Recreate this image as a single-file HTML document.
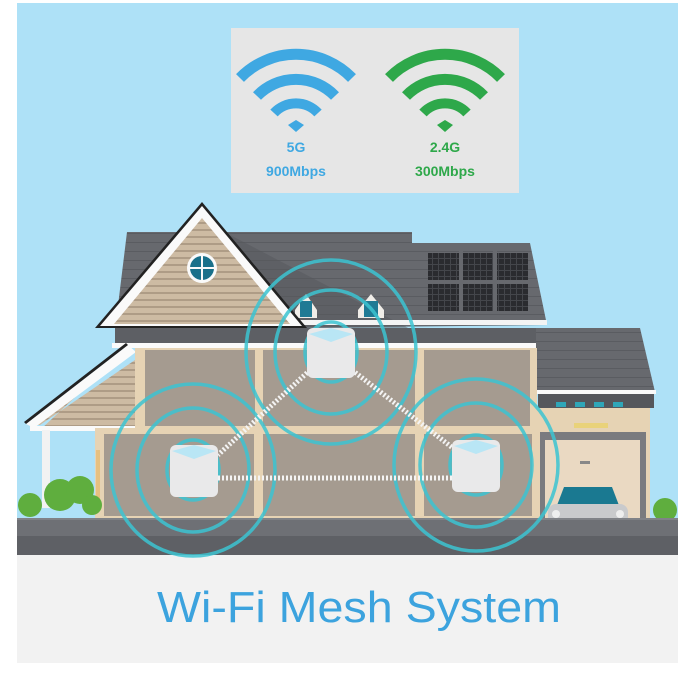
<!DOCTYPE html>
<html><head><meta charset="utf-8"><style>
html,body{margin:0;padding:0;background:#fff;width:694px;height:699px;overflow:hidden}
svg{display:block}
</style></head><body>
<svg width="694" height="699" viewBox="0 0 694 699" xmlns="http://www.w3.org/2000/svg">
<defs>
<pattern id="siding" width="10" height="7" patternUnits="userSpaceOnUse">
<rect width="10" height="7" fill="#cdbba3"/><rect y="5" width="10" height="2" fill="#ae9c86"/>
</pattern>
<pattern id="roof" width="10" height="9" patternUnits="userSpaceOnUse">
<rect width="10" height="9" fill="#67696e"/><rect y="8" width="10" height="1" fill="#5a5c61"/>
</pattern>
<pattern id="solar" width="6" height="6" patternUnits="userSpaceOnUse">
<rect width="6" height="6" fill="#2a2b2f"/><rect width="6" height="1" fill="#44464b"/><rect width="1" height="6" fill="#44464b"/>
</pattern>
</defs>
<rect x="17" y="3" width="661" height="552" fill="#aee1f7"/>
<rect x="17" y="555" width="661" height="108" fill="#f2f2f2"/>

<rect x="231" y="28" width="288" height="165" fill="#e6e6e6"/>
<g fill="none" stroke="#3fa8e2">
<path d="M240 78 A78 78 0 0 1 352 78" stroke-width="11"/>
<path d="M257 96 A54 54 0 0 1 335 96" stroke-width="11"/>
<path d="M274 113 A30 30 0 0 1 318 113" stroke-width="10"/>
</g>
<path d="M288 125 L296 120 L304 125 L296 132Z" fill="#3fa8e2"/>
<g fill="none" stroke="#2ea84a">
<path d="M389 78 A78 78 0 0 1 501 78" stroke-width="11"/>
<path d="M406 96 A54 54 0 0 1 484 96" stroke-width="11"/>
<path d="M423 113 A30 30 0 0 1 467 113" stroke-width="10"/>
</g>
<path d="M437 125 L445 120 L453 125 L445 132Z" fill="#2ea84a"/>
<g font-family="Liberation Sans, sans-serif" font-weight="bold" font-size="14" text-anchor="middle">
<text x="296" y="152" fill="#3fa8e2">5G</text>
<text x="296" y="176" fill="#3fa8e2">900Mbps</text>
<text x="445" y="152" fill="#2ea84a">2.4G</text>
<text x="445" y="176" fill="#2ea84a">300Mbps</text>
</g>

<path d="M127 232 L412 232 L412 243 L530 243 L547 325 L115 330Z" fill="url(#roof)"/>
<path d="M230 235 L412 330 L300 330Z" fill="#55575c" opacity="0.5"/>
<rect x="428" y="253" width="100" height="58" fill="url(#solar)"/>
<g stroke="#67696e" stroke-width="4"><line x1="461" y1="250" x2="461" y2="313"/><line x1="495" y1="250" x2="495" y2="313"/><line x1="426" y1="282" x2="530" y2="282"/></g>
<g>
<path d="M295 310 L306 294 L317 310 L317 318 L295 318Z" fill="#f0ede8"/>
<rect x="300" y="301" width="12" height="16" fill="#1f7a94"/>
<path d="M358 310 L371 294 L384 310 L384 318 L358 318Z" fill="#f0ede8"/>
<rect x="364" y="301" width="14" height="16" fill="#1f7a94"/>
</g>
<rect x="300" y="320" width="247" height="5" fill="#f4f4f4"/>
<path d="M202 202 L307 328 L95 328Z" fill="#222"/>
<path d="M202 206 L302 326 L100 326Z" fill="#fafafa"/>
<path d="M202 218 L290 324 L114 324Z" fill="url(#siding)"/>
<circle cx="202" cy="268" r="15" fill="#fafafa"/>
<circle cx="202" cy="268" r="12" fill="#19708a"/>
<path d="M202 256 V280 M190 268 H214" stroke="#fafafa" stroke-width="2"/>
<rect x="115" y="328" width="432" height="16" fill="#5d5f64"/>
<rect x="112" y="343" width="438" height="5" fill="#fafafa"/>

<path d="M536 328 L640 328 L655 392 L536 392Z" fill="url(#roof)"/>
<rect x="536" y="390" width="120" height="4" fill="#fafafa"/>
<rect x="538" y="394" width="116" height="14" fill="#55575c"/>
<g fill="#2fa6b8"><rect x="556" y="402" width="10" height="5"/><rect x="575" y="402" width="10" height="5"/><rect x="594" y="402" width="10" height="5"/><rect x="613" y="402" width="10" height="5"/></g>
<rect x="536" y="408" width="114" height="132" fill="#e6d3b4"/>
<rect x="574" y="423" width="34" height="5" fill="#e9d27a"/>
<rect x="540" y="432" width="106" height="108" fill="#7a7b7f"/>
<rect x="545" y="440" width="95" height="100" fill="#ead9c2"/>
<rect x="580" y="461" width="10" height="3" fill="#888"/>
<path d="M556 508 L564 487 L612 487 L620 508Z" fill="#1a7991"/>
<rect x="548" y="504" width="80" height="34" rx="8" fill="#c9cacc"/>
<rect x="560" y="524" width="56" height="5" fill="#333"/>
<circle cx="556" cy="514" r="4" fill="#eee"/><circle cx="620" cy="514" r="4" fill="#eee"/>

<path d="M130 346 L30 425 L40 425 L135 360 L135 430 L40 430 Z" fill="url(#siding)"/>
<path d="M128 345 L26 424 L34 428 L136 352Z" fill="#fafafa"/>
<path d="M126 343 L24 422 L26 424 L128 345Z" fill="#222"/>
<rect x="30" y="426" width="105" height="5" fill="#fafafa"/>
<rect x="42" y="430" width="8" height="78" fill="#f2f2f2"/>

<rect x="135" y="348" width="402" height="82" fill="#e6d3b4"/>
<rect x="145" y="350" width="110" height="76" fill="#a59b90"/>
<rect x="263" y="350" width="152" height="76" fill="#a59b90"/>
<rect x="424" y="350" width="106" height="76" fill="#a59b90"/>
<rect x="95" y="428" width="445" height="94" fill="#e6d3b4"/>
<rect x="104" y="434" width="150" height="82" fill="#a59b90"/>
<rect x="263" y="434" width="152" height="82" fill="#a59b90"/>
<rect x="424" y="434" width="108" height="82" fill="#a59b90"/>
<rect x="96" y="450" width="4" height="60" fill="#e6c080"/>

<g fill="#5fae3e">
<circle cx="30" cy="505" r="12"/><circle cx="60" cy="495" r="16"/><circle cx="80" cy="490" r="14"/><circle cx="92" cy="505" r="10"/>
<circle cx="665" cy="510" r="12"/>
</g>
<rect x="17" y="518" width="661" height="20" fill="#6e7075"/>
<rect x="17" y="536" width="661" height="19" fill="#5e6065"/>
<rect x="17" y="518" width="661" height="2" fill="#808287"/>

<g fill="none" stroke="#3cc4d2" stroke-width="3.5" opacity="0.85">
<ellipse cx="331" cy="352" rx="26" ry="30"/>
<ellipse cx="331" cy="352" rx="56" ry="62"/>
<ellipse cx="331" cy="352" rx="85" ry="92"/>
<ellipse cx="193" cy="470" rx="26" ry="30"/>
<ellipse cx="193" cy="470" rx="56" ry="62"/>
<ellipse cx="193" cy="470" rx="82" ry="86"/>
<ellipse cx="476" cy="465" rx="26" ry="30"/>
<ellipse cx="476" cy="465" rx="56" ry="62"/>
<ellipse cx="476" cy="465" rx="82" ry="86"/>
</g>
<g stroke="#f4f4f4" stroke-width="5" stroke-dasharray="2 2" fill="none">
<line x1="310" y1="370" x2="218" y2="455"/>
<line x1="352" y1="370" x2="458" y2="452"/>
<line x1="218" y1="478" x2="452" y2="478"/>
</g>
<g>
<rect x="307" y="328" width="48" height="50" rx="6" fill="#e9e9ea"/><path d="M309 334 L331 328 L353 334 L331 342Z" fill="#b9e6f5"/>
<rect x="170" y="445" width="48" height="52" rx="6" fill="#e9e9ea"/><path d="M172 451 L194 445 L216 451 L194 459Z" fill="#b9e6f5"/>
<rect x="452" y="440" width="48" height="52" rx="6" fill="#e9e9ea"/><path d="M454 446 L476 440 L498 446 L476 454Z" fill="#b9e6f5"/>
</g>

<text x="359" y="622" font-family="Liberation Sans, sans-serif" font-size="44" fill="#3ca3de" text-anchor="middle" textLength="404" lengthAdjust="spacingAndGlyphs">Wi-Fi Mesh System</text>
</svg>
</body></html>
